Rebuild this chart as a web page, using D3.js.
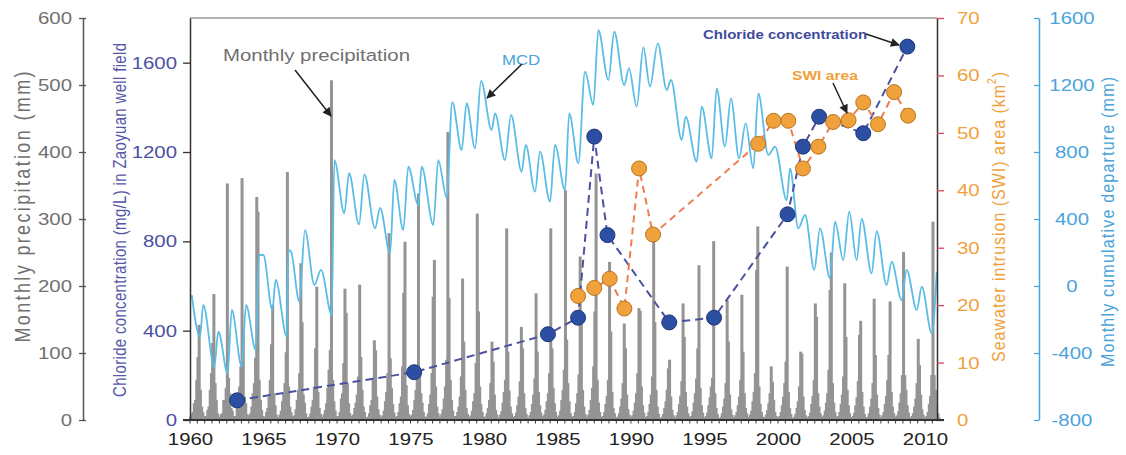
<!DOCTYPE html>
<html>
<head>
<meta charset="utf-8">
<script src="https://cdn.jsdelivr.net/npm/d3@7"></script>
<style>
  body { margin: 0; background: #fff; }
  svg { font-family: "Liberation Sans", Arial, sans-serif; }
</style>
</head>
<body>
<svg id="chart" width="1126" height="455"></svg>
<script>
// Monthly precipitation (mm), one row per year 1960..2010, Jan..Dec
const years = d3.range(1960, 2011);
const precip = [
  [5, 8, 12, 25, 30, 60, 94, 142, 45, 20, 12, 4],
  [6, 4, 15, 20, 45, 70, 115, 188, 55, 30, 10, 5],
  [3, 9, 10, 30, 25, 48, 353, 63, 40, 18, 14, 6],
  [4, 6, 18, 22, 50, 80, 361, 130, 35, 25, 9, 3],
  [7, 10, 20, 40, 55, 93, 333, 311, 60, 30, 15, 6],
  [5, 3, 12, 18, 35, 60, 113, 172, 40, 22, 8, 4],
  [4, 8, 14, 28, 40, 55, 101, 370, 50, 20, 12, 5],
  [6, 7, 16, 30, 45, 70, 234, 146, 38, 26, 10, 4],
  [3, 5, 10, 20, 30, 50, 107, 199, 42, 18, 9, 3],
  [5, 9, 15, 25, 48, 75, 105, 507, 60, 28, 14, 6],
  [4, 6, 12, 32, 40, 85, 196, 160, 55, 25, 10, 5],
  [6, 8, 18, 26, 38, 65, 202, 94, 45, 20, 12, 4],
  [3, 5, 10, 22, 30, 60, 119, 104, 35, 16, 8, 3],
  [5, 7, 14, 28, 42, 70, 279, 92, 48, 24, 11, 5],
  [4, 6, 12, 25, 35, 80, 190, 266, 52, 22, 9, 4],
  [6, 8, 15, 30, 45, 60, 338, 77, 40, 26, 12, 5],
  [3, 5, 10, 24, 38, 70, 184, 239, 50, 20, 10, 4],
  [5, 9, 16, 32, 50, 90, 430, 182, 60, 30, 14, 6],
  [4, 6, 12, 20, 35, 65, 211, 117, 45, 18, 9, 3],
  [5, 7, 14, 28, 40, 85, 308, 162, 50, 24, 12, 5],
  [3, 5, 10, 18, 30, 55, 117, 87, 38, 15, 8, 3],
  [4, 8, 13, 26, 42, 60, 286, 102, 44, 20, 10, 4],
  [5, 6, 11, 22, 35, 58, 139, 107, 40, 18, 9, 3],
  [4, 7, 12, 24, 38, 62, 189, 102, 42, 22, 11, 5],
  [6, 8, 15, 28, 40, 70, 286, 107, 48, 25, 12, 4],
  [5, 7, 14, 30, 45, 75, 343, 120, 55, 28, 10, 5],
  [4, 6, 12, 25, 40, 68, 244, 150, 45, 20, 9, 3],
  [5, 8, 15, 30, 48, 80, 162, 368, 60, 26, 12, 5],
  [4, 6, 12, 24, 36, 60, 236, 132, 42, 18, 10, 4],
  [3, 5, 10, 20, 32, 55, 144, 107, 38, 16, 8, 3],
  [5, 7, 14, 26, 40, 70, 167, 163, 50, 22, 11, 4],
  [4, 6, 12, 24, 38, 65, 281, 146, 45, 20, 9, 3],
  [3, 5, 9, 18, 28, 45, 77, 90, 35, 15, 7, 3],
  [4, 7, 12, 24, 36, 58, 174, 124, 42, 20, 10, 4],
  [5, 6, 13, 26, 40, 62, 107, 231, 48, 22, 11, 4],
  [4, 6, 11, 22, 34, 50, 63, 267, 40, 18, 9, 3],
  [3, 5, 10, 20, 32, 55, 179, 117, 38, 16, 8, 3],
  [4, 7, 12, 22, 35, 60, 187, 102, 40, 18, 10, 4],
  [5, 8, 14, 28, 42, 70, 224, 289, 50, 24, 12, 5],
  [3, 4, 8, 15, 25, 40, 80, 57, 30, 12, 6, 2],
  [4, 6, 12, 22, 35, 55, 87, 229, 42, 18, 9, 3],
  [3, 5, 9, 18, 28, 50, 102, 99, 35, 15, 7, 3],
  [4, 6, 11, 24, 36, 60, 174, 154, 40, 20, 10, 4],
  [5, 7, 14, 26, 40, 75, 194, 250, 55, 26, 12, 5],
  [4, 6, 12, 24, 38, 65, 204, 124, 45, 22, 10, 4],
  [3, 6, 11, 22, 34, 58, 127, 148, 42, 20, 9, 3],
  [4, 5, 10, 20, 32, 55, 181, 97, 38, 18, 8, 3],
  [4, 7, 12, 24, 36, 60, 97, 177, 42, 20, 10, 4],
  [5, 7, 13, 26, 40, 67, 251, 67, 45, 22, 11, 4],
  [3, 6, 10, 20, 32, 55, 121, 82, 38, 16, 8, 3],
  [4, 6, 12, 24, 36, 67, 296, 67, 45, 22, 10, 4]
];

// Monthly cumulative departure (mm), turning points
const mcdYear = [1960.12,1960.68,1960.90,1961.65,1961.93,1962.56,1962.84,1963.52,1963.81,1964.47,
  1964.69,1964.99,1965.60,1965.83,1966.58,1966.69,1966.87,1967.44,1967.82,1968.46,
  1968.91,1969.64,1969.82,1970.50,1970.82,1971.50,1971.86,1972.59,1972.93,1973.61,
  1973.90,1974.51,1974.85,1975.53,1975.76,1976.55,1976.89,1977.46,1977.84,1978.48,
  1978.82,1979.39,1979.80,1980.52,1980.75,1981.43,1981.84,1982.56,1982.84,1983.47,
  1983.81,1984.49,1984.83,1985.51,1985.80,1986.42,1986.87,1987.44,1987.78,1988.46,
  1988.86,1989.54,1989.86,1990.39,1990.84,1991.29,1991.82,1992.43,1992.72,1993.45,
  1993.72,1994.47,1994.81,1995.49,1995.83,1996.39,1996.80,1997.35,1997.80,1998.32,
  1998.66,1999.34,1999.80,2000.59,2000.82,2001.38,2001.84,2002.47,2002.86,2003.54,
  2003.88,2004.44,2004.85,2005.35,2005.69,2006.37,2006.71,2007.39,2007.73,2008.41,
  2008.75,2009.44,2009.78,2010.46,2010.80];
const mcdValue = [-54,-303,-113,-482,-273,-521,-143,-482,-113,-382,
  185,185,-143,36,-303,215,205,-94,334,6,
  96,-173,752,434,673,368,667,344,467,195,
  633,334,712,484,712,364,752,527,1097,812,
  1091,822,1224,931,1031,752,1021,682,842,563,
  802,503,842,573,1031,732,1279,1081,1528,1230,
  1518,1200,1299,1071,1424,1190,1449,1170,1230,872,
  1011,742,1071,762,1180,832,1120,762,971,702,
  1150,782,832,513,702,344,424,96,344,46,
  384,155,444,155,400,76,328,6,145,-84,
  96,-143,-4,-283,85];

// Chloride concentration (mg/L) in Zaoyuan well field
const clYear = [1963.2,1975.25,1984.35,1986.4,1987.5,1988.4,1992.6,1995.65,2000.65,2001.7,2002.8,2005.8,2008.8];
const clValue = [88,214,384,458,1269,828,437,458,921,1224,1358,1284,1672];

// Seawater intrusion area (km2)
const swiYear = [1986.4,1987.5,1988.55,1989.55,1990.55,1991.5,1998.65,1999.7,2000.7,2001.7,2002.75,2003.75,2004.8,2005.8,2006.8,2007.9,2008.85];
const swiValue = [21.6,23.0,24.6,19.4,43.8,32.3,48.1,52.1,52.1,43.8,47.6,51.9,52.2,55.3,51.5,57.1,53.0];

// tick labels
const yearTicks = d3.range(1960, 2011, 5);
const precipTicks = d3.range(0, 601, 100);
const clTicks = [0, 400, 800, 1200, 1600];
const swiTicks = d3.range(0, 71, 10);
const mcdTicks = d3.range(-800, 1601, 400);

const C = {
  grey: "#707070", bar: "#949494",
  cl: "#4b50a0", clDot: "#2c4ea3",
  swi: "#f0a13c", swiLine: "#ee7f4d",
  mcd: "#4aa3da", mcdLine: "#5bbde6",
  axis: "#333"
};
const SX = 1.2; // the source figure is stretched sideways
const plain = d => String(d);

const svg = d3.select("#chart");
const plotTop = 18, plotBottom = 420, plotLeft = 190, plotRight = 937;

const x = d3.scaleLinear().domain([1960, 2010]).range([190, 925]);
const yP = d3.scaleLinear().domain([0, 600]).range([plotBottom, plotTop]);
const yC = d3.scaleLinear().domain([0, 1800]).range([plotBottom, plotTop]);
const yS = d3.scaleLinear().domain([0, 70]).range([plotBottom, plotTop]);
const yM = d3.scaleLinear().domain([-800, 1600]).range([plotBottom, plotTop]);

// bars
const monthly = [];
years.forEach((yr, i) => precip[i].forEach((v, m) => monthly.push({t: yr + (m + 0.5) / 12, v})));
svg.append("g").selectAll("rect")
  .data(monthly)
  .join("rect")
  .attr("x", d => x(d.t) - 1.5)
  .attr("width", 3)
  .attr("y", d => yP(d.v))
  .attr("height", d => plotBottom - yP(d.v))
  .attr("fill", C.bar);

// MCD line
const mcd = mcdYear.map((t, i) => ({t, v: mcdValue[i]}));
svg.append("path")
  .datum(mcd)
  .attr("fill", "none")
  .attr("stroke", C.mcdLine)
  .attr("stroke-width", 1.8)
  .attr("d", d3.line().x(d => x(d.t)).y(d => yM(d.v)).curve(d3.curveMonotoneX));

// frame
svg.append("line").attr("x1", plotLeft).attr("x2", plotRight).attr("y1", plotTop).attr("y2", plotTop)
  .attr("stroke", "#666").attr("stroke-width", 1);

function stretch(sel) {
  sel.each(function() {
    const t = d3.select(this);
    t.attr("x", (+t.attr("x") || 0) / SX).attr("transform", `scale(${SX},1)`);
  });
}
function styleAxis(g, color, tickColor, lineColor) {
  g.attr("font-size", 17).attr("font-family", null);
  g.selectAll("text").attr("fill", color);
  g.selectAll(".tick line").attr("stroke", tickColor).attr("stroke-width", 1.3);
  g.select(".domain").attr("stroke", lineColor).attr("stroke-width", 1.5);
  stretch(g.selectAll("text"));
}

// precipitation axis
const gP = svg.append("g").attr("transform", "translate(83,0)")
  .call(d3.axisLeft(yP).tickValues(precipTicks).tickFormat(plain).tickSizeInner(4).tickSizeOuter(0).tickPadding(7));
styleAxis(gP, C.grey, "#555", "#555");
gP.selectAll(".tick line").attr("x1", 3);

// chloride axis
const gC = svg.append("g").attr("transform", `translate(${plotLeft},0)`)
  .call(d3.axisLeft(yC).tickValues(clTicks).tickFormat(plain).tickSizeInner(7).tickSizeOuter(0).tickPadding(6));
styleAxis(gC, C.cl, C.axis, C.axis);

// SWI axis
const gS = svg.append("g").attr("transform", `translate(${plotRight},0)`)
  .call(d3.axisRight(yS).tickValues(swiTicks).tickFormat(plain).tickSizeInner(7).tickSizeOuter(0).tickPadding(13));
styleAxis(gS, C.swi, "#d9465a", C.axis);

// MCD axis
const gM = svg.append("g").attr("transform", "translate(1039,0)")
  .call(d3.axisRight(yM).tickValues(mcdTicks).tickFormat(plain).tickSizeInner(-5).tickSizeOuter(0));
gM.selectAll("text").attr("x", 33).attr("text-anchor", "middle");
styleAxis(gM, C.mcd, C.mcd, C.mcd);

// time axis
const gX = svg.append("g").attr("transform", `translate(0,${plotBottom})`)
  .call(d3.axisBottom(x).tickValues(yearTicks).tickFormat(plain).tickSize(0).tickPadding(13));
gX.select(".domain").remove();
gX.attr("font-size", 17).attr("font-family", null);
gX.selectAll("text").attr("fill", "#222");
stretch(gX.selectAll("text"));
gX.append("g").selectAll("line")
  .data(d3.range(1960, 2010.9, 0.5))
  .join("line")
  .attr("x1", d => x(d)).attr("x2", d => x(d))
  .attr("y1", 0).attr("y2", 3.5)
  .attr("stroke", "#333").attr("stroke-width", 1);
gX.append("line").attr("x1", 183).attr("x2", 944).attr("stroke", "#333").attr("stroke-width", 2);

// chloride series
const cl = clYear.map((t, i) => ({t, v: clValue[i]}));
svg.append("path").datum(cl)
  .attr("fill", "none").attr("stroke", C.cl).attr("stroke-width", 2)
  .attr("stroke-dasharray", "8,5")
  .attr("d", d3.line().x(d => x(d.t)).y(d => yC(d.v)));

// SWI series
const swi = swiYear.map((t, i) => ({t, v: swiValue[i]}));
svg.append("path").datum(swi)
  .attr("fill", "none").attr("stroke", C.swiLine).attr("stroke-width", 2)
  .attr("stroke-dasharray", "7,5")
  .attr("d", d3.line().x(d => x(d.t)).y(d => yS(d.v)));

svg.append("g").selectAll("circle").data(cl).join("circle")
  .attr("cx", d => x(d.t)).attr("cy", d => yC(d.v)).attr("r", 7.5)
  .attr("fill", C.clDot).attr("stroke", "#1e3878").attr("stroke-width", 1);
svg.append("g").selectAll("circle").data(swi).join("circle")
  .attr("cx", d => x(d.t)).attr("cy", d => yS(d.v)).attr("r", 7.5)
  .attr("fill", C.swi).attr("stroke", "#b8741e").attr("stroke-width", 1);

// axis titles (rotated), length fitted to the figure
function title(cx, cy, txt, size, color, len) {
  return svg.append("text")
    .attr("transform", `translate(${cx},${cy}) scale(${SX},1) rotate(-90)`)
    .attr("text-anchor", "middle").attr("dy", "0.35em")
    .attr("font-size", size).attr("fill", color)
    .attr("textLength", len).attr("lengthAdjust", "spacing")
    .text(txt);
}
title(22, 207, "Monthly precipitation (mm)", 18, C.grey, 271);
title(120, 220, "Chloride concentration (mg/L) in Zaoyuan well field", 15, "#5558aa", 354);
const ts = title(998, 217, "Seawater intrusion (SWI) area (km", 16, C.swi, 290);
ts.append("tspan").attr("font-size", 10).attr("dy", "-0.7em").text("2");
ts.append("tspan").attr("dy", "0.45em").text(")");
title(1107, 222, "Monthly cumulative departure (mm)", 16, C.mcd, 290);

// annotations
svg.append("defs").append("marker")
  .attr("id", "arrow").attr("viewBox", "0 0 10 10")
  .attr("refX", 9).attr("refY", 5)
  .attr("markerWidth", 13).attr("markerHeight", 9)
  .attr("markerUnits", "userSpaceOnUse")
  .attr("orient", "auto")
  .append("path").attr("d", "M0,0L10,5L0,10z").attr("fill", "#222");

function note(tx, ty, txt, size, color, weight, a) {
  svg.append("text")
    .attr("transform", `translate(${tx},${ty}) scale(${SX},1)`)
    .attr("font-size", size).attr("fill", color)
    .attr("font-weight", weight)
    .text(txt);
  svg.append("line")
    .attr("x1", a[0]).attr("y1", a[1]).attr("x2", a[2]).attr("y2", a[3])
    .attr("stroke", "#222").attr("stroke-width", 1.5)
    .attr("marker-end", "url(#arrow)");
}
note(223, 61, "Monthly precipitation", 17, C.grey, "normal", [295, 70, 331, 116]);
note(502, 65, "MCD", 14, C.mcd, "normal", [522, 64, 487, 98]);
note(703, 39, "Chloride concentration", 12.5, "#3f4a9c", "bold", [866, 34, 899, 45]);
note(792, 80, "SWI area", 13, C.swi, "bold", [833, 83, 847, 113]);
</script>
</body>
</html>
